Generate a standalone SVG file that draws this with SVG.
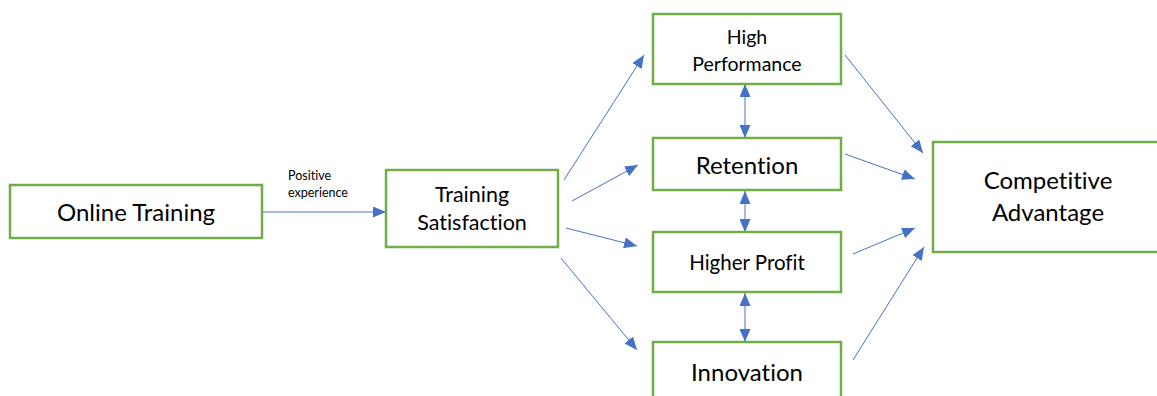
<svg xmlns="http://www.w3.org/2000/svg" width="1157" height="396" viewBox="0 0 1157 396">
  <style>
    .box { fill: #ffffff; stroke: #70AD47; stroke-width: 2.5; }
    .lbl { font-family: Lato, "Open Sans", "Liberation Sans", sans-serif; fill: #000000; text-anchor: middle; font-variant-ligatures: none; }
    .small { font-family: Lato, "Open Sans", "Liberation Sans", sans-serif; fill: #000000; font-size: 12.5px; font-variant-ligatures: none; }
    .edge { stroke: #4472C4; stroke-width: 1; fill: none; marker-end: url(#head); }
    .both { stroke: #4472C4; stroke-width: 1; fill: none; marker-start: url(#tail); marker-end: url(#head); }
  </style>
  <defs>
    <marker id="head" viewBox="0 0 13 11" refX="13" refY="5.5" markerWidth="13" markerHeight="11" markerUnits="userSpaceOnUse" orient="auto">
      <path d="M0,0 L13,5.5 L0,11 Z" fill="#4472C4"/>
    </marker>
    <marker id="tail" viewBox="0 0 13 11" refX="0" refY="5.5" markerWidth="13" markerHeight="11" markerUnits="userSpaceOnUse" orient="auto">
      <path d="M13,0 L0,5.5 L13,11 Z" fill="#4472C4"/>
    </marker>
  </defs>
  <rect width="1157" height="396" fill="#ffffff"/>

  <g id="connectors">
    <line class="edge" x1="263" y1="212" x2="386" y2="212"/>
    <line class="edge" x1="564" y1="180" x2="644" y2="55"/>
    <line class="edge" x1="572" y1="201" x2="638" y2="165"/>
    <line class="edge" x1="566" y1="228" x2="637" y2="246"/>
    <line class="edge" x1="561" y1="258" x2="637" y2="350"/>
    <line class="both" x1="745" y1="84" x2="745" y2="138"/>
    <line class="both" x1="745" y1="191" x2="745" y2="232"/>
    <line class="both" x1="745" y1="293" x2="745" y2="342"/>
    <line class="edge" x1="845" y1="55" x2="923" y2="153"/>
    <line class="edge" x1="845" y1="154" x2="915" y2="179"/>
    <line class="edge" x1="853" y1="254" x2="915" y2="228"/>
    <line class="edge" x1="853" y1="360" x2="924" y2="247"/>
    <text class="small" x="288" y="180">Positive</text>
    <text class="small" x="288" y="197">experience</text>
  </g>

  <g id="online-training">
    <rect class="box" x="10" y="185" width="252" height="53"/>
    <text class="lbl" x="136" y="221" font-size="24">Online Training</text>
  </g>

  <g id="training-satisfaction">
    <rect class="box" x="386" y="170" width="172" height="77"/>
    <text class="lbl" x="472" y="202" font-size="21.5">Training</text>
    <text class="lbl" x="472" y="230" font-size="21.5">Satisfaction</text>
  </g>

  <g id="high-performance">
    <rect class="box" x="653" y="14" width="188" height="70"/>
    <text class="lbl" x="747" y="44" font-size="19.5">High</text>
    <text class="lbl" x="747" y="71" font-size="19.5">Performance</text>
  </g>

  <g id="retention">
    <rect class="box" x="653" y="138" width="188" height="52"/>
    <text class="lbl" x="747" y="174" font-size="24">Retention</text>
  </g>

  <g id="higher-profit">
    <rect class="box" x="653" y="232" width="188" height="60"/>
    <text class="lbl" x="747" y="270" font-size="20.5">Higher Profit</text>
  </g>

  <g id="innovation">
    <rect class="box" x="653" y="342" width="188" height="70"/>
    <text class="lbl" x="747" y="381" font-size="24">Innovation</text>
  </g>

  <g id="competitive-advantage">
    <rect class="box" x="933" y="142" width="240" height="110"/>
    <text class="lbl" x="1048" y="189" font-size="24">Competitive</text>
    <text class="lbl" x="1048" y="221" font-size="24">Advantage</text>
  </g>
</svg>
